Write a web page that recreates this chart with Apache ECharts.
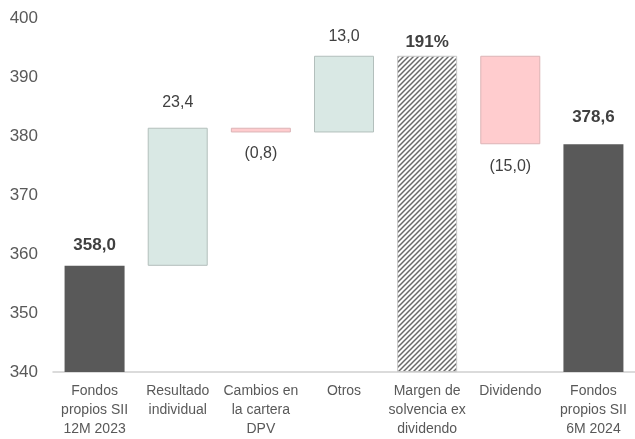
<!DOCTYPE html>
<html>
<head>
<meta charset="utf-8">
<script src="https://cdn.jsdelivr.net/npm/echarts@6/dist/echarts.min.js"></script>
<style>
html,body{margin:0;padding:0;background:#fff}
#main{width:635px;height:439px}
</style>
</head>
<body>
<div id="main"></div>
<script>
var categories = ['Fondos\npropios SII\n12M 2023', 'Resultado\nindividual', 'Cambios en\nla cartera\nDPV', 'Otros',
    'Margen de\nsolvencia ex\ndividendo', 'Dividendo', 'Fondos\npropios SII\n6M 2024'];
// tipo: total, delta, margen
var kinds = ['total', 'delta', 'delta', 'delta', 'margen', 'delta', 'total'];
var values = [358.0, 23.4, -0.8, 13.0, null, -15.0, 378.6];
var margenLabel = '191%';

// separación etiqueta-barra (px), solo maquetación
var labelGap = [12, 17, 13, 11, 5, 14, 18];

var fmt = function (v) {
    var s = Math.abs(v).toFixed(1).replace('.', ',');
    return v < 0 ? '(' + s + ')' : s;
};

// trama rayada para la barra del margen
var tile = document.createElement('canvas');
tile.width = 5; tile.height = 5;
var cx = tile.getContext('2d');
cx.fillStyle = '#fff';
cx.fillRect(0, 0, 5, 5);
cx.strokeStyle = '#6a6a6a';
cx.lineWidth = 1.5;
cx.beginPath();
cx.moveTo(-1, 6); cx.lineTo(6, -1);
cx.moveTo(-1, 1); cx.lineTo(1, -1);
cx.moveTo(4, 6); cx.lineTo(6, 4);
cx.stroke();

var base = [], totals = [], ups = [], downs = [], hatch = [];
var running = 0;
for (var i = 0; i < values.length; i++) {
    var v = values[i];
    base.push('-'); totals.push('-'); ups.push('-'); downs.push('-'); hatch.push('-');
    if (kinds[i] === 'total') {
        running = v;
        base[i] = 340;
        totals[i] = { value: v - 340, label: { formatter: fmt(v), distance: labelGap[i] } };
    } else if (kinds[i] === 'margen') {
        base[i] = 340;
        hatch[i] = { value: running - 340, label: { formatter: margenLabel, distance: labelGap[i] } };
    } else if (v >= 0) {
        base[i] = running;
        ups[i] = { value: v, label: { formatter: fmt(v), distance: labelGap[i] } };
        running += v;
    } else {
        running += v;
        base[i] = running;
        downs[i] = { value: -v, label: { formatter: fmt(v), distance: labelGap[i] } };
    }
}

var ff = 'Liberation Sans, Arial, sans-serif';
var txt = { color: '#404040', fontSize: 16, fontFamily: ff };
var bold = { color: '#404040', fontSize: 17, fontWeight: 'bold', fontFamily: ff };

var myChart = echarts.init(document.getElementById('main'));
myChart.setOption({
    animation: false,
    grid: { left: 53, width: 587, top: 18, bottom: 60, containLabel: false },
    xAxis: {
        type: 'category',
        data: categories,
        axisLine: { lineStyle: { color: '#d0d0d0', width: 1.5 } },
        axisTick: { show: false },
        axisLabel: { interval: 0, color: '#595959', fontSize: 14, lineHeight: 19, margin: 10, fontFamily: ff }
    },
    yAxis: {
        type: 'value',
        min: 340, max: 400, interval: 10,
        splitLine: { show: false },
        axisLine: { show: false },
        axisTick: { show: false },
        axisLabel: { color: '#595959', fontSize: 17, margin: 15, fontFamily: ff }
    },
    series: [
        { type: 'bar', stack: 'w', barWidth: 60, data: base, itemStyle: { color: 'transparent' }, silent: true },
        { type: 'bar', stack: 'w', data: totals, itemStyle: { color: '#595959' },
            label: Object.assign({ show: true, position: 'top' }, bold) },
        { type: 'bar', stack: 'w', data: ups, itemStyle: { color: '#d9e8e4', borderColor: '#b3bfbc', borderWidth: 1 },
            label: Object.assign({ show: true, position: 'top' }, txt) },
        { type: 'bar', stack: 'w', data: downs, itemStyle: { color: '#ffccce', borderColor: '#dcb4b6', borderWidth: 1 },
            label: Object.assign({ show: true, position: 'bottom' }, txt) },
        { type: 'bar', stack: 'w', data: hatch, itemStyle: { color: { image: tile, repeat: 'repeat' }, borderColor: '#c8c8c8', borderWidth: 1 },
            label: Object.assign({ show: true, position: 'top' }, bold) }
    ]
});
</script>
</body>
</html>
